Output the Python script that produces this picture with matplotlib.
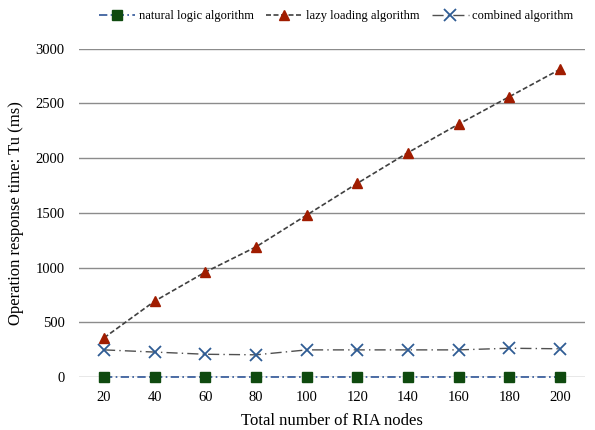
"""RIA response time chart"""

import matplotlib
matplotlib.use('Agg')
import matplotlib.pyplot as plt

# data
nodes = [20, 40, 60, 80, 100, 120, 140, 160, 180, 200]
natural_logic = [5, 5, 5, 5, 5, 5, 5, 5, 5, 5]
lazy_loading = [360, 695, 960, 1190, 1480, 1770, 2050, 2310, 2560, 2810]
combined = [250, 230, 210, 205, 250, 250, 250, 250, 265, 260]
y_ticks = [0, 500, 1000, 1500, 2000, 2500, 3000]

plt.rcParams['font.family'] = ['Liberation Serif', 'DejaVu Serif']

fig = plt.figure(figsize=(5.95, 4.3), dpi=100)
ax = fig.add_axes([0.1323, 0.1226, 0.8514, 0.7646])

xpos = list(range(len(nodes)))

# grid lines
for yv in y_ticks:
    ax.axhline(yv, color='#8c8c8c', linewidth=1.0, zorder=1)

ax.plot(xpos, natural_logic, linestyle=(0, (5, 2, 1, 2)), color='#2f5597',
        linewidth=1.2, marker='s', markersize=6.5, markerfacecolor='#0f4a0f',
        markeredgecolor='#0f4a0f', label='natural logic algorithm',
        clip_on=False, zorder=3)
ax.plot(xpos, lazy_loading, linestyle=(0, (3, 1.5)), color='#404040',
        linewidth=1.2, marker='^', markersize=7.5, markerfacecolor='#a01c00',
        markeredgecolor='#a01c00', label='lazy loading algorithm',
        clip_on=False, zorder=3)
ax.plot(xpos, combined, linestyle=(0, (8, 3, 1, 3)), color='#505050',
        linewidth=1.0, marker='x', markersize=8.5, markeredgewidth=1.3,
        markeredgecolor='#2f5c94', label='combined algorithm',
        clip_on=False, zorder=3)

ax.set_xlim(-0.5, len(nodes) - 0.5)
ax.set_ylim(0, 3000)
ax.set_xticks(xpos)
ax.set_xticklabels([str(n) for n in nodes], fontsize=10.5)
ax.set_yticks(y_ticks)
ax.set_yticklabels([str(v) for v in y_ticks], fontsize=10.5)
ax.tick_params(length=0)
ax.tick_params(axis='y', pad=10)
ax.tick_params(axis='x', pad=10)
for s in ax.spines.values():
    s.set_visible(False)

ax.set_xlabel('Total number of RIA nodes', fontsize=12, labelpad=6)
ax.set_ylabel('Operation response time: Tu (ms)', fontsize=12, labelpad=8)

fig.legend(loc='center', bbox_to_anchor=(0.565, 0.963), ncol=3, frameon=False,
           fontsize=9, handlelength=2.9, columnspacing=1.0, handletextpad=0.3)

plt.savefig('out.png', dpi=100)
